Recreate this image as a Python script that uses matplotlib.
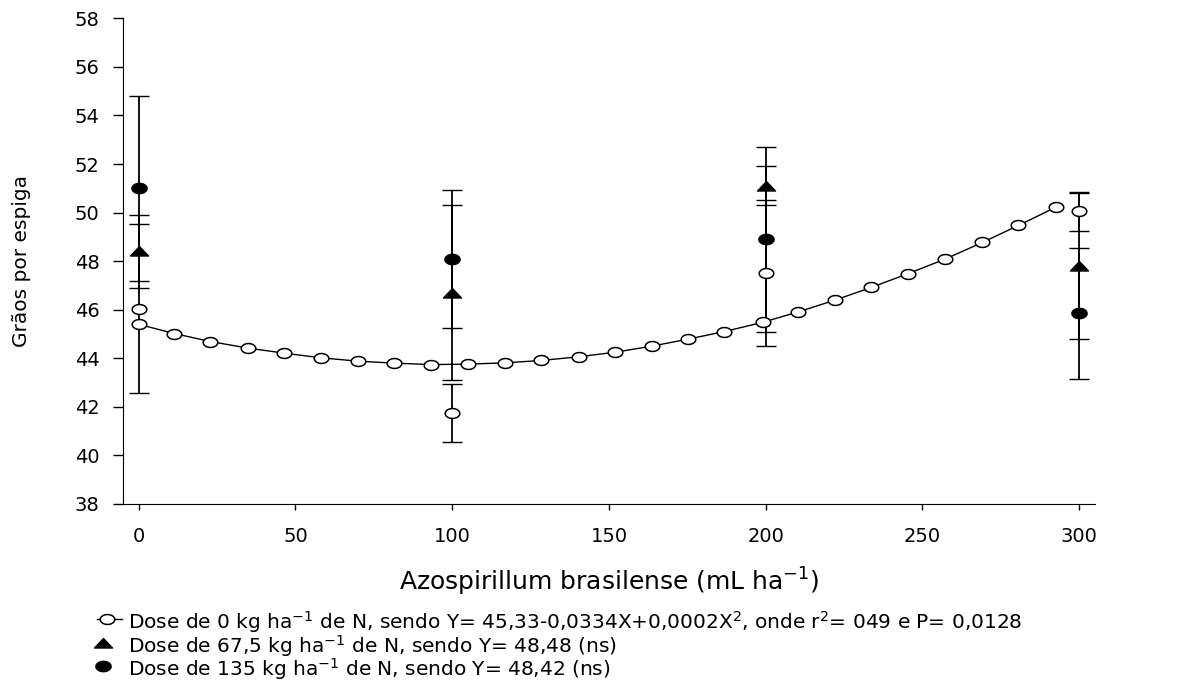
import numpy as np
import matplotlib.pyplot as plt
from matplotlib.path import Path
from matplotlib.lines import Line2D

plt.rcParams['font.family'] = ['DejaVu Sans']
plt.rcParams['mathtext.fontset'] = 'dejavusans'

# Doses of Azospirillum (mL/ha)
doses = [0, 100, 200, 300]

# Observed means and error bars for each N dose
y_n0 = [46.05, 41.75, 47.5, 50.05]
err_n0 = [3.5, 1.2, 3.0, 0.8]
y_n67 = [48.4, 46.7, 51.1, 47.8]
err_n67 = [1.5, 3.6, 0.8, 3.0]
y_n135 = [51.0, 48.1, 48.9, 45.85]
err_n135 = [3.8, 2.85, 3.8, 2.7]

# Fitted quadratic for the 0 kg N dose
fit_x = [0, 11.3, 22.9, 34.8, 46.5, 58.1, 70.0, 81.6, 93.3, 105.0, 116.7, 128.4, 140.3,
         152.0, 163.7, 175.3, 186.8, 199.0, 210.4, 222.2, 233.7, 245.5, 257.3, 269.1,
         280.6, 292.5]
fit_y = [45.40, 45.02, 44.69, 44.42, 44.21, 44.02, 43.88, 43.80, 43.74, 43.76, 43.81,
         43.91, 44.06, 44.25, 44.50, 44.79, 45.10, 45.48, 45.91, 46.40, 46.92, 47.49,
         48.09, 48.77, 49.47, 50.22]

labels = [
    'Dose de 0 kg ha$^{-1}$ de N, sendo Y= 45,33-0,0334X+0,0002X$^{2}$, onde r$^{2}$= 049 e P= 0,0128',
    'Dose de 67,5 kg ha$^{-1}$ de N, sendo Y= 48,48 (ns)',
    'Dose de 135 kg ha$^{-1}$ de N, sendo Y= 48,42 (ns)',
]

# slightly flattened markers
t = np.linspace(0, 2 * np.pi, 41)
ellipse = Path(np.column_stack([np.cos(t), 0.68 * np.sin(t)]), closed=True)
tri = Path([(-1, -0.5), (1, -0.5), (0, 0.55), (-1, -0.5)], closed=True)

fig = plt.figure(figsize=(11.94, 6.81), dpi=100)
ax = fig.add_axes([0.103, 0.26, 0.814, 0.713])

for yy, ee in [(y_n0, err_n0), (y_n67, err_n67), (y_n135, err_n135)]:
    ax.errorbar(doses, yy, yerr=ee, fmt='none', ecolor='black', elinewidth=1.3,
                capsize=7, capthick=1.0, zorder=1)

ax.plot(fit_x, fit_y, color='black', lw=1.0, marker=ellipse, ms=10.5,
        mfc='white', mec='black', mew=1.1, zorder=3)
ax.plot(doses, y_n0, ls='none', marker=ellipse, ms=10.5, mfc='white', mec='black',
        mew=1.1, zorder=4)
ax.plot(doses, y_n67, ls='none', marker=tri, ms=13, color='black', zorder=4)
ax.plot(doses, y_n135, ls='none', marker=ellipse, ms=11, color='black', zorder=4)

ax.set_xlim(-5, 305)
ax.set_ylim(38, 58)
ax.set_xticks([0, 50, 100, 150, 200, 250, 300])
ax.set_yticks(np.arange(38, 59, 2))
ax.spines['top'].set_visible(False)
ax.spines['right'].set_visible(False)
ax.tick_params(axis='y', direction='out', length=7, width=1, labelsize=14, pad=10)
ax.tick_params(axis='x', direction='out', length=4.5, width=1, labelsize=14, pad=12)
ax.set_xlabel('Azospirillum brasilense (mL ha$^{-1}$)', fontsize=18, labelpad=14)
ax.set_ylabel('Grãos por espiga', fontsize=14.5, labelpad=31)

# legend rows under the axes, drawn in figure coordinates
W, H = 1194.0, 681.0
row_y = [619, 642.5, 666]
fig.add_artist(Line2D([97 / W, 122 / W], [1 - row_y[0] / H] * 2, color='black', lw=1.0))
fig.add_artist(Line2D([107 / W], [1 - row_y[0] / H], marker=ellipse, ms=10.5,
                      mfc='white', mec='black', mew=1.1, ls='none'))
fig.add_artist(Line2D([103 / W], [1 - row_y[1] / H], marker=tri, ms=13,
                      color='black', ls='none'))
fig.add_artist(Line2D([103 / W], [1 - row_y[2] / H], marker=ellipse, ms=11,
                      color='black', ls='none'))
for lab, ry in zip(labels, row_y):
    fig.text(128 / W, 1 - ry / H, lab, fontsize=14.5, ha='left', va='center_baseline')

plt.savefig('out.png', dpi=100)
